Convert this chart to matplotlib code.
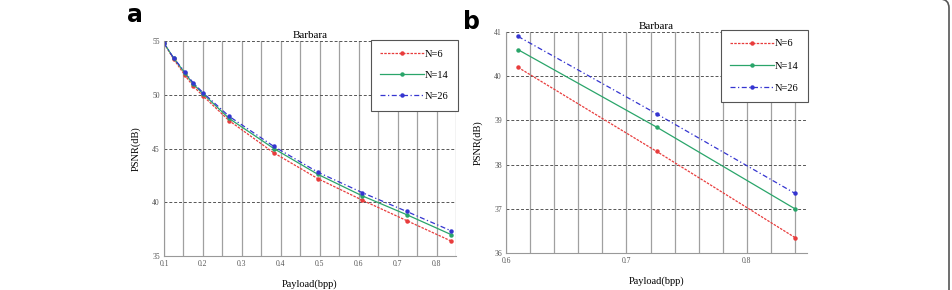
import matplotlib
matplotlib.use("Agg")
import matplotlib.pyplot as plt
from matplotlib.patches import PathPatch
from matplotlib.path import Path
from matplotlib.transforms import IdentityTransform
from matplotlib.ticker import MultipleLocator

# payload (bpp) and PSNR (dB) for Barbara
payload_a = [0.1, 0.125, 0.154, 0.175, 0.2, 0.267, 0.382, 0.495, 0.609, 0.723, 0.837]
psnr6_a = [54.8, 53.3, 51.8, 50.8, 49.9, 47.6, 44.6, 42.2, 40.2, 38.3, 36.4]
psnr14_a = [54.8, 53.4, 52.0, 51.0, 50.1, 47.8, 45.0, 42.6, 40.6, 38.85, 37.0]
psnr26_a = [54.8, 53.4, 52.1, 51.1, 50.2, 48.0, 45.2, 42.8, 40.9, 39.15, 37.35]

payload_b = [0.61, 0.725, 0.84]
psnr6_b = [40.2, 38.3, 36.35]
psnr14_b = [40.6, 38.85, 37.0]
psnr26_b = [40.9, 39.15, 37.35]

labels = ['N=6', 'N=14', 'N=26']
colors = ['#e83c3c', '#2aa56a', '#3535d0']
styles = [(0, (2, 1)), '-', (0, (4, 2, 1, 2))]

plt.rcParams['font.family'] = ['Liberation Serif', 'DejaVu Serif']

fig = plt.figure(figsize=(9.53, 2.90), dpi=100)
ax_a = fig.add_axes([0.1721, 0.1172, 0.3064, 0.7414])
ax_b = fig.add_axes([0.531, 0.1276, 0.3158, 0.762])


def style_axes(ax):
    for s in ['top', 'right']:
        ax.spines[s].set_visible(False)
    for s in ['left', 'bottom']:
        ax.spines[s].set_color('#999999')
        ax.spines[s].set_linewidth(0.8)
    ax.grid(axis='x', which='both', color='#a0a0a0', linestyle='-', linewidth=0.9)
    ax.grid(axis='y', which='major', color='#555555', linestyle=(0, (3, 2)), linewidth=0.7)
    ax.tick_params(axis='both', which='both', length=0, labelsize=5.5, labelcolor='#555555', pad=3)
    ax.set_axisbelow(True)
    ax.set_title('Barbara', fontsize=8, pad=2)
    ax.set_xlabel('Payload(bpp)', fontsize=7.5, labelpad=8)
    ax.set_ylabel('PSNR(dB)', fontsize=7.5, labelpad=8)


series_a = [psnr6_a, psnr14_a, psnr26_a]
for y, lab, c, ls in zip(series_a, labels, colors, styles):
    ax_a.plot(payload_a, y, color=c, linestyle=ls, linewidth=0.9, marker='o', markersize=2.2, label=lab)
ax_a.set_xlim(0.1, 0.85)
ax_a.set_ylim(35, 55)
ax_a.set_xticks([0.1, 0.2, 0.3, 0.4, 0.5, 0.6, 0.7, 0.8])
ax_a.set_xticklabels(['0.1', '0.2', '0.3', '0.4', '0.5', '0.6', '0.7', '0.8'])
ax_a.xaxis.set_minor_locator(MultipleLocator(0.05))
ax_a.yaxis.set_major_locator(MultipleLocator(5))
style_axes(ax_a)

series_b = [psnr6_b, psnr14_b, psnr26_b]
for y, lab, c, ls in zip(series_b, labels, colors, styles):
    ax_b.plot(payload_b, y, color=c, linestyle=ls, linewidth=0.9, marker='o', markersize=2.2, label=lab)
ax_b.set_xlim(0.6, 0.85)
ax_b.set_ylim(36, 41)
ax_b.set_xticks([0.6, 0.7, 0.8])
ax_b.set_xticklabels(['0.6', '0.7', '0.8'])
ax_b.xaxis.set_minor_locator(MultipleLocator(0.02))
ax_b.yaxis.set_major_locator(MultipleLocator(1))
style_axes(ax_b)

for ax, anchor, sp in [(ax_a, (1.007, 1.005), 1.15), (ax_b, (1.003, 1.01), 1.25)]:
    leg = ax.legend(loc='upper right', bbox_to_anchor=anchor, fontsize=7.5, labelspacing=sp,
                    handlelength=4.2, handletextpad=0.1, borderpad=0.9, borderaxespad=0,
                    fancybox=False, framealpha=1)
    leg.get_frame().set_edgecolor('#555555')
    leg.get_frame().set_linewidth(0.8)

fig.text(135 / 953, 1 - 22 / 290, 'a', fontsize=17, fontweight='bold', family='DejaVu Sans',
         ha='center', va='baseline')
fig.text(472 / 953, 1 - 29 / 290, 'b', fontsize=17, fontweight='bold', family='DejaVu Sans',
         ha='center', va='baseline')

# right edge of the surrounding rounded frame (pixel coordinates)
edge = Path([(949, -5), (949, 282), (949, 291), (940, 291)],
            [Path.MOVETO, Path.LINETO, Path.CURVE3, Path.CURVE3])
fig.patches.append(PathPatch(edge, transform=IdentityTransform(), fill=False,
                             edgecolor='#555555', linewidth=1.2))

fig.savefig('out.png', dpi=100)
